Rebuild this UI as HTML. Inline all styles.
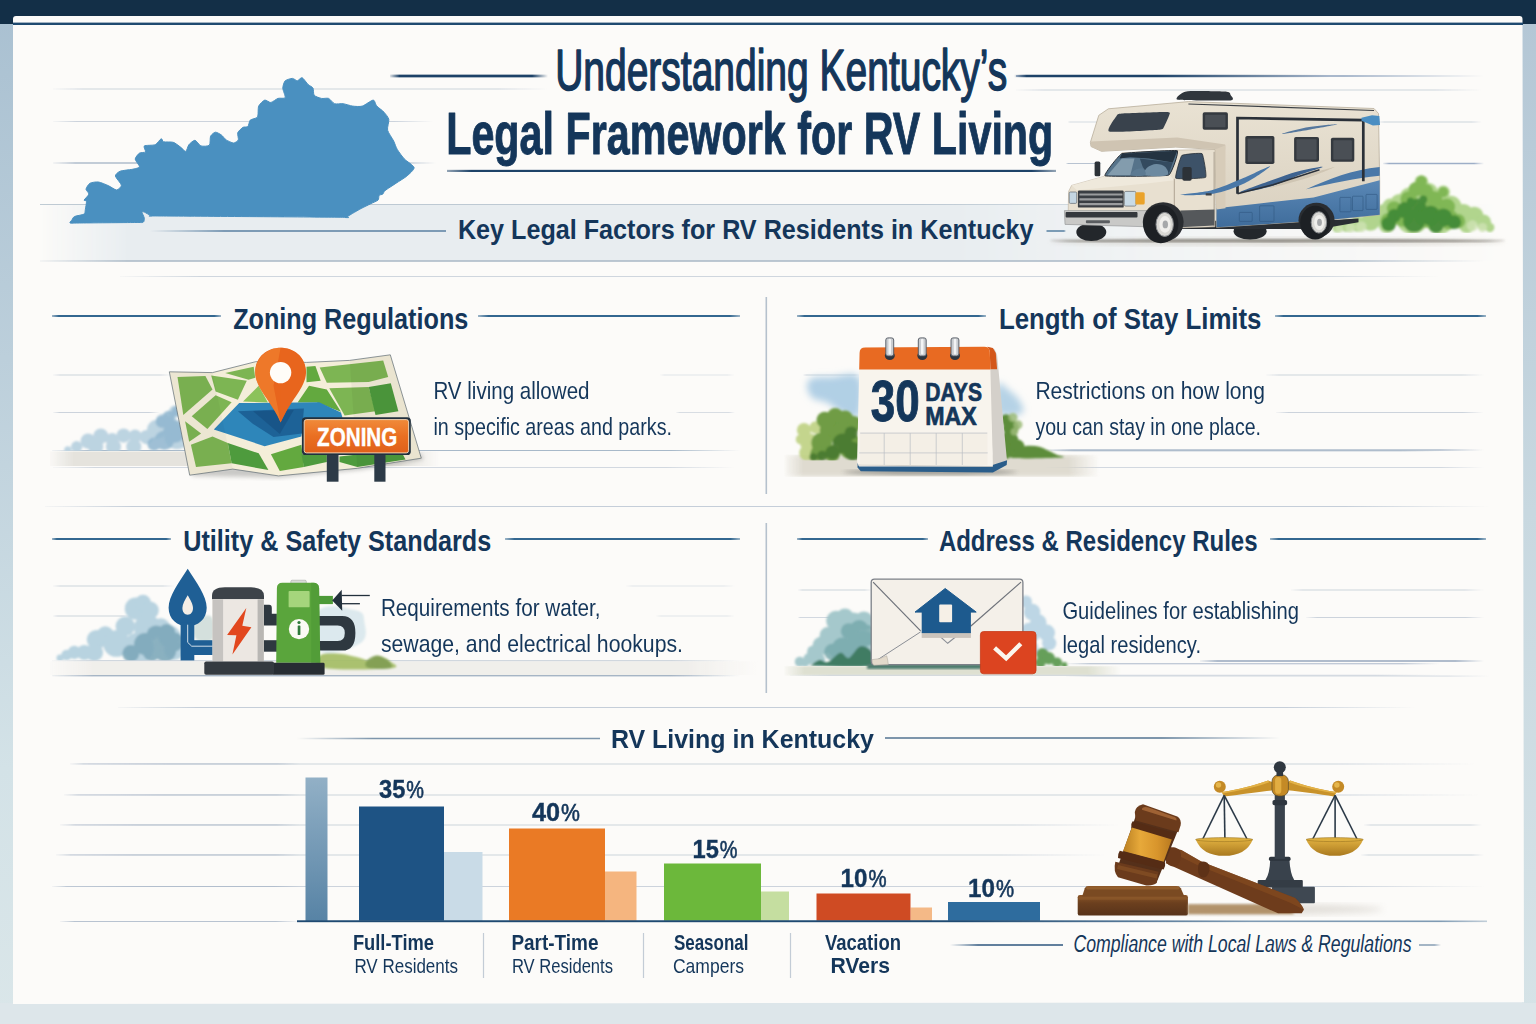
<!DOCTYPE html>
<html lang="en"><head><meta charset="utf-8"><title>Understanding Kentucky's Legal Framework for RV Living</title>
<style>
html,body{margin:0;padding:0;width:1536px;height:1024px;overflow:hidden;background:#dde6ea;}
svg{display:block;position:absolute;left:0;top:0;}
text{font-family:"Liberation Sans",sans-serif;}
</style></head><body>
<svg width="1536" height="1024" viewBox="0 0 1536 1024">
<!-- sec_bg -->
<defs>
<linearGradient id="gleft" x1="0" y1="0" x2="0" y2="1"><stop offset="0" stop-color="#a9c0d1"/><stop offset="0.35" stop-color="#bccfdb"/><stop offset="0.75" stop-color="#d3e2e7"/><stop offset="1" stop-color="#dae6e9"/></linearGradient>
<linearGradient id="gright" x1="0" y1="0" x2="0" y2="1"><stop offset="0" stop-color="#b3c6d5"/><stop offset="0.5" stop-color="#c8d8e0"/><stop offset="1" stop-color="#d6e3e7"/></linearGradient>
<linearGradient id="gfb" x1="0" y1="0" x2="1" y2="0"><stop offset="0" stop-color="#222"/><stop offset="0.06" stop-color="#fff"/><stop offset="0.9" stop-color="#fff"/><stop offset="1" stop-color="#000"/></linearGradient>
<linearGradient id="gfl" x1="0" y1="0" x2="1" y2="0"><stop offset="0" stop-color="#000"/><stop offset="0.25" stop-color="#fff"/><stop offset="1" stop-color="#fff"/></linearGradient>
<linearGradient id="gfr" x1="0" y1="0" x2="1" y2="0"><stop offset="0" stop-color="#fff"/><stop offset="0.7" stop-color="#fff"/><stop offset="1" stop-color="#000"/></linearGradient>
<linearGradient id="gfs" x1="0" y1="0" x2="1" y2="0"><stop offset="0" stop-color="#777"/><stop offset="0.04" stop-color="#fff"/><stop offset="0.96" stop-color="#fff"/><stop offset="1" stop-color="#777"/></linearGradient>
<mask id="mfs" maskContentUnits="objectBoundingBox"><rect x="0" y="0" width="1" height="1" fill="url(#gfs)"/></mask>
<linearGradient id="gf2" x1="0" y1="0" x2="1" y2="0"><stop offset="0" stop-color="#000"/><stop offset="0.04" stop-color="#fff"/><stop offset="0.45" stop-color="#fff"/><stop offset="1" stop-color="#000"/></linearGradient>
<mask id="mf2" maskContentUnits="objectBoundingBox"><rect x="0" y="0" width="1" height="1" fill="url(#gf2)"/></mask>
<linearGradient id="gband" x1="0" y1="0" x2="1" y2="0"><stop offset="0" stop-color="#000"/><stop offset="0.06" stop-color="#fff"/><stop offset="0.62" stop-color="#fff"/><stop offset="0.82" stop-color="#555"/><stop offset="1" stop-color="#000"/></linearGradient>
<mask id="mband" maskContentUnits="objectBoundingBox"><rect x="0" y="0" width="1" height="1" fill="url(#gband)"/></mask>
<mask id="mfb" maskContentUnits="objectBoundingBox"><rect x="0" y="0" width="1" height="1" fill="url(#gfb)"/></mask>
<mask id="mfl" maskContentUnits="objectBoundingBox"><rect x="0" y="0" width="1" height="1" fill="url(#gfl)"/></mask>
<mask id="mfr" maskContentUnits="objectBoundingBox"><rect x="0" y="0" width="1" height="1" fill="url(#gfr)"/></mask>
<filter id="b1" x="-10%" y="-10%" width="120%" height="120%"><feGaussianBlur stdDeviation="1"/></filter>
<filter id="b2" x="-10%" y="-10%" width="120%" height="120%"><feGaussianBlur stdDeviation="2"/></filter>
<filter id="b3" x="-20%" y="-20%" width="140%" height="140%"><feGaussianBlur stdDeviation="3.5"/></filter>
<filter id="b6" x="-20%" y="-30%" width="140%" height="160%"><feGaussianBlur stdDeviation="6"/></filter>
</defs>
<rect x="0" y="0" width="1536" height="1024" fill="#dde6ea"/>
<rect x="0" y="0" width="14" height="1024" fill="url(#gleft)"/>
<rect x="1522" y="0" width="14" height="1024" fill="url(#gright)"/>
<rect x="0" y="1003" width="1536" height="21" fill="#dde6ea"/>
<rect x="0" y="0" width="1536" height="24" fill="#132f47"/>
<path d="M13 1004 L13 19 Q13 16 16 16 L1519.5 16 Q1522.5 16 1522.5 19 L1524 1002.2 Z" fill="#fcfbf9"/>
<rect x="13" y="22.6" width="1510" height="2.4" fill="#1f4a70"/>
<rect x="40" y="204" width="1470" height="57" fill="#e8edf0" mask="url(#mband)"/>
<rect x="40" y="203.7" width="1260" height="1.6" fill="#b9c6d0" opacity="0.9" mask="url(#mfr)"/>
<rect x="40" y="260" width="1444" height="2" fill="#aebcc9" opacity="0.8" mask="url(#mfb)"/>
<rect x="120" y="275.8" width="1320" height="1.5" fill="#c5ced8" opacity="0.8" mask="url(#mfb)"/>
<rect x="53" y="88.3" width="495" height="1.4" fill="#c1cad6" opacity="0.8" mask="url(#mfb)"/>
<rect x="53" y="120.8" width="380" height="1.4" fill="#c1cad6" opacity="0.8" mask="url(#mfb)"/>
<rect x="53" y="162.1" width="383" height="1.8" fill="#a8b6c8" opacity="0.85" mask="url(#mfb)"/>
<rect x="1016" y="89.3" width="466" height="1.4" fill="#c1cad6" opacity="0.8" mask="url(#mfb)"/>
<rect x="1068" y="121.3" width="34" height="1.4" fill="#c1cad6" opacity="0.7" mask="url(#mfb)"/>
<rect x="1378" y="121.3" width="104" height="1.4" fill="#c1cad6" opacity="0.8" mask="url(#mfb)"/>
<rect x="1066" y="162.7" width="36" height="1.6" fill="#a8b6c8" opacity="0.8" mask="url(#mfb)"/>
<rect x="1383" y="162.5" width="101" height="2" fill="#93a6c2" opacity="0.9" mask="url(#mfb)"/>
<rect x="53" y="374.3" width="119" height="1.4" fill="#c1cad6" opacity="0.8" mask="url(#mfb)"/>
<rect x="660" y="374.4" width="75" height="1.2" fill="#c1cad6" opacity="0.6" mask="url(#mfb)"/>
<rect x="53" y="411.8" width="107" height="1.4" fill="#c1cad6" opacity="0.8" mask="url(#mfb)"/>
<rect x="676" y="411.9" width="59" height="1.2" fill="#c1cad6" opacity="0.6" mask="url(#mfb)"/>
<rect x="53" y="466.9" width="682" height="1.3" fill="#c1cad6" opacity="0.7" mask="url(#mfb)"/>
<rect x="45" y="505.7" width="1445" height="1.6" fill="#bcc7d4" opacity="0.85" mask="url(#mfb)"/>
<rect x="803" y="374.3" width="57" height="1.4" fill="#c1cad6" opacity="0.8" mask="url(#mfb)"/>
<rect x="1266" y="374.3" width="218" height="1.4" fill="#c1cad6" opacity="0.8" mask="url(#mfb)"/>
<rect x="1276" y="411.8" width="208" height="1.4" fill="#c1cad6" opacity="0.8" mask="url(#mfb)"/>
<rect x="1046" y="449.1" width="438" height="1.8" fill="#a8b6c8" opacity="0.85" mask="url(#mfb)"/>
<rect x="1046" y="466.9" width="438" height="1.3" fill="#c1cad6" opacity="0.7" mask="url(#mfb)"/>
<rect x="53" y="585.3" width="122" height="1.4" fill="#c1cad6" opacity="0.8" mask="url(#mfb)"/>
<rect x="626" y="585.4" width="109" height="1.2" fill="#c1cad6" opacity="0.6" mask="url(#mfb)"/>
<rect x="53" y="615.3" width="77" height="1.4" fill="#c1cad6" opacity="0.8" mask="url(#mfb)"/>
<rect x="656" y="615.4" width="79" height="1.2" fill="#c1cad6" opacity="0.6" mask="url(#mfb)"/>
<rect x="53" y="675.4" width="682" height="1.3" fill="#c1cad6" opacity="0.7" mask="url(#mfb)"/>
<rect x="798" y="589.3" width="74" height="1.4" fill="#c1cad6" opacity="0.8" mask="url(#mfb)"/>
<rect x="1291" y="589.3" width="193" height="1.4" fill="#c1cad6" opacity="0.8" mask="url(#mfb)"/>
<rect x="798" y="616.9" width="34" height="1.3" fill="#c1cad6" opacity="0.7" mask="url(#mfb)"/>
<rect x="1306" y="616.8" width="178" height="1.4" fill="#c1cad6" opacity="0.8" mask="url(#mfb)"/>
<rect x="1200" y="660" width="284" height="2" fill="#a8b6c8" opacity="0.9" mask="url(#mfb)"/>
<rect x="1066" y="675.4" width="424" height="1.3" fill="#c1cad6" opacity="0.75" mask="url(#mfb)"/>
<rect x="118" y="706.7" width="1298" height="1.6" fill="#bcc7d4" opacity="0.85" mask="url(#mfb)"/>
<rect x="88" y="763.3" width="1388" height="1.4" fill="#c1cad6" opacity="0.8" mask="url(#mfb)"/>
<rect x="80" y="794.3" width="1400" height="1.4" fill="#c1cad6" opacity="0.8" mask="url(#mfb)"/>
<rect x="75" y="824.3" width="1045" height="1.4" fill="#c1cad6" opacity="0.8" mask="url(#mfb)"/>
<rect x="1364" y="824.3" width="118" height="1.4" fill="#c1cad6" opacity="0.8" mask="url(#mfb)"/>
<rect x="70" y="854.3" width="1036" height="1.4" fill="#c1cad6" opacity="0.8" mask="url(#mfb)"/>
<rect x="1361" y="854.3" width="123" height="1.4" fill="#c1cad6" opacity="0.8" mask="url(#mfb)"/>
<rect x="65" y="885.8" width="1421" height="1.4" fill="#c1cad6" opacity="0.8" mask="url(#mfb)"/>
<rect x="60" y="920.7" width="240" height="1.6" fill="#a8b6c8" opacity="0.8" mask="url(#mfb)"/>
<rect x="70" y="763.2" width="230" height="1.5" fill="#a8b6c8" opacity="0.7" mask="url(#mfb)"/>
<rect x="64" y="794.2" width="236" height="1.5" fill="#a8b6c8" opacity="0.7" mask="url(#mfb)"/>
<rect x="60" y="824.2" width="240" height="1.5" fill="#a8b6c8" opacity="0.7" mask="url(#mfb)"/>
<rect x="56" y="854.2" width="244" height="1.5" fill="#a8b6c8" opacity="0.7" mask="url(#mfb)"/>
<rect x="52" y="885.8" width="248" height="1.5" fill="#a8b6c8" opacity="0.7" mask="url(#mfb)"/>
<!-- sec_ky -->
<path d="M70.1 223 C69.2 222.6 71.5 220.6 72 219.8 C72.5 219 73.1 217.2 74.5 216.5 C75.9 215.8 82.8 214.9 84.1 214.1 C85.4 213.3 85 211.2 85.3 209.7 C85.6 208.2 86.6 202.4 86.5 201.3 C86.4 200.2 83.8 200.9 84.1 200.1 C84.4 199.3 88.7 195.4 88.9 194.1 C89.1 192.8 85.9 190.5 86 189.2 C86.1 187.9 88.6 184 90.1 183.2 C91.6 182.4 96.4 181.7 98.5 182 C100.6 182.3 106.1 184.7 108.2 185.6 C110.3 186.5 115.1 190 116.6 190 C118.1 190 121.5 186.8 121.4 185.2 C121.3 183.6 115.5 177.6 115.4 176 C115.3 174.4 118.2 172 120.2 171.2 C122.2 170.4 130 169.8 132.3 169.3 C134.6 168.8 139.2 168 139.5 166.8 C139.8 165.6 135.2 160.7 135.2 159.1 C135.2 157.5 138.3 153.9 139.5 153.1 C140.7 152.3 144.9 152.7 145.5 151.9 C146.1 151.1 143.2 146.7 144.3 145.9 C145.4 145.1 153.2 145.5 155.2 144.7 C157.2 143.9 160.2 139 161.2 138.7 C162.2 138.4 162.2 141.4 163.6 141.8 C165 142.2 171.2 141.7 173.2 142.3 C175.2 142.9 179 146 180.5 147.1 C182 148.2 184.8 151.7 185.8 151.4 C186.8 151.1 187.8 146 188.9 144.7 C190 143.4 193.5 140.2 194.9 140.3 C196.3 140.4 199.2 145.3 200.9 145.9 C202.6 146.5 208.3 146.3 209.4 145.2 C210.5 144.1 209.9 137.7 210.6 136.2 C211.3 134.7 214.1 132.3 215.4 132.2 C216.7 132.1 220.1 134.1 221.4 135 C222.7 135.9 224.8 139 226.2 139.9 C227.6 140.8 232.1 143 233.5 143 C234.9 143 237.8 141.1 238.3 139.9 C238.8 138.7 237.2 134.1 237.8 132.6 C238.4 131.1 241.9 128 243.1 127.3 C244.3 126.6 247.1 127.4 247.9 126.6 C248.7 125.8 249.2 121.2 250.3 120.1 C251.4 119 256.5 118.6 257.5 117 C258.5 115.4 257.8 108.1 258.7 106.1 C259.6 104.1 263.4 100.5 264.8 100.1 C266.2 99.7 269.3 102.7 270.8 102.5 C272.3 102.3 276.3 99 278 98.4 C279.7 97.8 284.6 98.9 285.2 97.7 C285.8 96.5 282.8 90.1 282.8 88.1 C282.8 86.1 284.1 81.9 285.2 80.8 C286.3 79.7 291.1 78.4 292.5 78.4 C293.9 78.4 296.2 80.9 297.3 80.8 C298.4 80.7 300.8 77.3 302.1 77.7 C303.4 78.1 306.8 83.3 308.1 84.5 C309.4 85.7 312.3 86.8 313 88.1 C313.7 89.4 313.2 94.1 314.2 95.3 C315.2 96.5 319.7 98 321.4 98.4 C323.1 98.8 327.1 97.8 328.6 98.4 C330.1 99 332.9 103.1 334.6 103.7 C336.3 104.3 341 103.4 343.1 103.7 C345.2 104 350.5 105.8 352.7 106.1 C354.9 106.4 359.9 106.8 362.3 106.1 C364.7 105.4 371.5 100.1 373.2 100.1 C374.9 100.1 375.5 104.7 376.8 106.1 C378.1 107.5 382.6 110.6 384 112.2 C385.4 113.8 388.4 117.3 388.8 119.4 C389.2 121.5 387 127.7 387.6 130.2 C388.2 132.7 392.6 138.8 393.7 141.1 C394.8 143.4 396 147.4 397.3 149.5 C398.6 151.6 402.5 157 404.5 159.1 C406.5 161.2 413.8 165.6 414.1 167.6 C414.4 169.6 409 174.2 406.9 176 C404.8 177.8 398.6 181.5 396.1 183.2 C393.6 184.9 386.8 189.2 385.2 190.5 C383.6 191.8 383.5 193.5 382.8 194.1 C382.1 194.7 379.8 194.6 379.2 195.3 C378.6 196 379 199.1 378 200.1 C377 201.1 372.8 202.7 370.8 203.7 C368.8 204.7 363.2 207.4 361.1 208.5 C359 209.6 354.5 212.3 352.7 213.3 C350.9 214.3 347.3 216.9 345.5 217.4 C343.7 217.9 358.5 217.4 337 217.2 C315.5 217 182.8 216.2 161.2 216 C139.6 215.8 153.5 216.2 151.5 215.7 C149.5 215.2 145.4 212.5 144.3 212.1 C143.2 211.7 141.9 211.4 141.9 212.1 C141.9 212.8 144.2 217 144.3 218.2 C144.4 219.4 144.2 221.8 143.1 222.3 C142 222.8 142.1 222.4 134.7 222.5 C127.3 222.6 86.8 222.9 79.3 223 C71.8 223.1 71 223.4 70.1 223Z" fill="#4a90c0" stroke="#4a90c0" stroke-width="1" stroke-linejoin="round"/>
<!-- sec_rv -->
<defs>
<linearGradient id="rvbody" x1="0" y1="0" x2="0" y2="1"><stop offset="0" stop-color="#e9e2d3"/><stop offset="1" stop-color="#d9d0bf"/></linearGradient>
<linearGradient id="rvblue" x1="0" y1="0" x2="0" y2="1"><stop offset="0" stop-color="#5a88b6"/><stop offset="1" stop-color="#3f6c9b"/></linearGradient>
<radialGradient id="bushg" cx="0.5" cy="0.6" r="0.6"><stop offset="0" stop-color="#4f8f35"/><stop offset="0.7" stop-color="#79b34d"/><stop offset="1" stop-color="#a8d07c"/></radialGradient>
</defs>
<ellipse cx="1277.6" cy="240.8" rx="227.6" ry="1.6" fill="#5c5852" opacity="0.8" filter="url(#b1)"/>
<ellipse cx="1277.6" cy="241.7" rx="227.6" ry="4.2" fill="#b8b2a6" opacity="0.35" filter="url(#b2)"/>
<clipPath id="bushclip"><rect x="1300" y="100" width="230" height="133.1"/></clipPath><g clip-path="url(#bushclip)">
<g filter="url(#b1)">
<g fill="#a9d182" opacity="0.9"><circle cx="1337.5" cy="227.6" r="5.1"/><circle cx="1346.7" cy="225.3" r="6.6"/><circle cx="1357.6" cy="224" r="7.7"/><circle cx="1370.4" cy="221.2" r="9.5"/><circle cx="1383.1" cy="215.8" r="11.3"/><circle cx="1390.4" cy="206.7" r="8.2"/><circle cx="1399.5" cy="203" r="9.1"/><circle cx="1409.5" cy="197.5" r="10"/><circle cx="1421.4" cy="182.1" r="6.9"/><circle cx="1417.8" cy="192.1" r="10"/><circle cx="1428.7" cy="192.1" r="9.1"/><circle cx="1443.3" cy="192.1" r="6.6"/><circle cx="1439.6" cy="201.2" r="10"/><circle cx="1450.6" cy="206.7" r="10.9"/><circle cx="1463.3" cy="214" r="10"/><circle cx="1474.3" cy="215.8" r="9.1"/><circle cx="1483.4" cy="222.2" r="7.7"/><circle cx="1489.8" cy="227.6" r="4.6"/><circle cx="1412.3" cy="217.6" r="16.4"/><circle cx="1439.6" cy="219.4" r="14.6"/><circle cx="1386.8" cy="224.9" r="8.2"/><circle cx="1467" cy="224.9" r="8.2"/></g>
<g fill="#7db552" opacity="0.95"><circle cx="1421.4" cy="181.1" r="5.5"/><circle cx="1415.9" cy="189.3" r="7.3"/><circle cx="1426" cy="191.2" r="7.3"/><circle cx="1408.6" cy="199.4" r="8.2"/><circle cx="1434.2" cy="199.4" r="8.2"/><circle cx="1443.3" cy="192.1" r="5.1"/><circle cx="1394.1" cy="208.5" r="7.3"/><circle cx="1446.9" cy="206.7" r="8.2"/><circle cx="1403.2" cy="215.8" r="10.9"/><circle cx="1426.9" cy="214" r="13.7"/><circle cx="1448.7" cy="219.4" r="10"/><circle cx="1388.6" cy="221.2" r="8.2"/><circle cx="1457.9" cy="221.2" r="7.3"/></g>
<g fill="#438a36" opacity="0.95"><circle cx="1388.6" cy="224" r="7.3"/><circle cx="1394.1" cy="215.8" r="6.9"/><circle cx="1405" cy="210.3" r="8.2"/><circle cx="1417.8" cy="206.7" r="8.2"/><circle cx="1414.1" cy="221.2" r="10.9"/><circle cx="1430.5" cy="215.8" r="10"/><circle cx="1443.3" cy="217.6" r="9.1"/><circle cx="1454.2" cy="222.2" r="6.9"/><circle cx="1436" cy="225.8" r="7.3"/><circle cx="1423.2" cy="199.4" r="4"/><circle cx="1410.5" cy="201.2" r="3.6"/></g>
<g fill="#cfe3b4" opacity="0.8"><circle cx="1339.4" cy="228.5" r="4"/><circle cx="1350.3" cy="227.6" r="5.1"/><circle cx="1361.2" cy="226.7" r="5.5"/><circle cx="1472.4" cy="225.8" r="5.5"/><circle cx="1482.5" cy="227.6" r="4.6"/></g>
</g>
</g>
<ellipse cx="1091.3" cy="232.1" rx="15" ry="9" fill="#23272b" />
<ellipse cx="1250.1" cy="231.2" rx="16.5" ry="8.4" fill="#23272b" />
<path d="M1148.8 220.8 L1319.5 220.8 L1358.5 218.4 L1358.5 222.3 L1319.5 229.1 L1148.8 229.1Z" fill="#2a2e33" />
<path d="M1090.4 142.3 L1098.8 115.3 L1108.4 108.8 L1188.4 101.6 L1374 108.5 L1378.5 113.5 L1379.7 181.8 L1379.7 214.8 L1333 219.6 L1216.5 227.3 L1215 149.5 L1175.8 147.1 L1101.5 151.3 L1091 146.5Z" fill="url(#rvbody)" stroke="#b9ae9c" stroke-width="0.8" stroke-linejoin="round"/>
<path d="M1091 141.4 L1177.3 137.5 L1225.2 144.4 L1225.2 149.5 L1175.8 147.1 L1101.5 151.3 L1091 146.5Z" fill="#cfc4b2" />
<path d="M1188.4 104 L1374 110.5" fill="none" stroke="#3a3f45" stroke-width="1.2" />
<path d="M1178.2 99.8 C1173.3 99.1 1180.5 94.1 1181.8 93.2 C1183.1 92.3 1186.3 91.2 1190.8 91.1 C1195.3 90.9 1222.7 91.3 1226.7 91.7 C1230.7 92.1 1230.2 94.1 1230.6 95 C1231 95.9 1235.8 99.9 1230.6 100.4 C1225.4 100.9 1183.1 100.5 1178.2 99.8Z" fill="#30363c" />
<path d="M1216.5 208.2 L1259.6 203.4 L1313.6 197.4 L1379.7 180.3 L1379.7 214.8 L1333 219.6 L1216.5 227.3Z" fill="url(#rvblue)" />
<rect x="1239.3" y="212.4" width="12.9" height="9" rx="0.6" fill="none" stroke="#2f5680" stroke-width="0.7" opacity="0.8"/>
<rect x="1259.6" y="205.8" width="14.4" height="15.6" rx="0.6" fill="none" stroke="#2f5680" stroke-width="0.7" opacity="0.8"/>
<rect x="1339.9" y="197.4" width="11.1" height="14.4" rx="0.6" fill="none" stroke="#2f5680" stroke-width="0.7" opacity="0.8"/>
<rect x="1352.5" y="196.2" width="10.5" height="14.4" rx="0.6" fill="none" stroke="#2f5680" stroke-width="0.7" opacity="0.8"/>
<rect x="1366" y="194.4" width="11.1" height="15" rx="0.6" fill="none" stroke="#2f5680" stroke-width="0.7" opacity="0.8"/>
<path d="M1239.3 192.6 C1239.3 191.6 1261.7 183.9 1271.6 180.3 C1281.5 176.8 1290.1 173.5 1298.6 171.3 C1307.1 169.1 1322.5 166.2 1322.5 166.9 C1322.5 167.6 1307.1 172 1298.6 175.2 C1290.1 178.4 1281.5 183.4 1271.6 186.3 C1261.7 189.2 1239.3 193.6 1239.3 192.6Z" fill="#3e6390" />
<path d="M1270.1 187.8 C1269.1 187.6 1287.9 180.8 1298.6 177.3 C1309.3 173.8 1333.5 166.7 1334.5 166.9 C1335.5 167.2 1315.3 175.3 1304.6 178.8 C1293.9 182.3 1271.1 188.1 1270.1 187.8Z" fill="#cfc5b3" />
<path d="M 1306.1 189.3 C 1328.5 178.8 1352.5 169.8 1379.7 166.9 L 1379.7 175.8 C 1355.5 178.2 1331.5 183.3 1306.1 189.3 Z" fill="#4a78a8" />
<path d="M1282.1 133.9 C1281.6 133.6 1298.4 128.9 1307.6 127.3 C1316.8 125.7 1337 123.9 1337.5 124.3 C1338 124.7 1319.8 127.8 1310.6 129.4 C1301.4 131 1282.6 134.2 1282.1 133.9Z" fill="#55779d" />
<path d="M1237.5 193.8 L1237.5 118 L1363.3 120.1 L1363.3 181.2" fill="none" stroke="#2a3038" stroke-width="2.7" stroke-linejoin="miter"/>
<path d="M1237.5 193.8 L1273.1 184.8 L1319.5 169.8" fill="none" stroke="#2a3038" stroke-width="1.5" />
<path d="M1361.5 117.7 L1372 115.3 L1379.4 115.9 L1380 124.9 L1372.9 125.5 L1361.5 120.7Z" fill="#4a8ec2" />
<rect x="1202.7" y="112.3" width="25.2" height="17.4" rx="1.8" fill="#34393f" />
<rect x="1205.1" y="114.7" width="20.4" height="12.6" rx="0.9" fill="#4a4f55" />
<rect x="1245.3" y="136" width="29.1" height="28.1" rx="1.8" fill="#34393f" />
<rect x="1247.7" y="138.4" width="24.3" height="23.4" rx="0.9" fill="#4a4f55" />
<rect x="1294.1" y="136.9" width="24.9" height="24.9" rx="1.8" fill="#34393f" />
<rect x="1296.5" y="139.3" width="20.1" height="20.1" rx="0.9" fill="#4a4f55" />
<rect x="1330.9" y="137.8" width="23.4" height="24" rx="1.8" fill="#34393f" />
<rect x="1333.3" y="140.2" width="18.6" height="19.2" rx="0.9" fill="#4a4f55" />
<path d="M1109.3 131.5 C1105.7 130.3 1115.5 117.4 1116.5 115.9 C1117.5 114.4 1117.7 113.8 1121.9 113.5 C1126.1 113.2 1163.5 111.8 1167.4 112 C1171.3 112.2 1169.5 114 1169.2 115.3 C1168.9 116.6 1164.6 126.1 1163.8 127.3 C1163 128.5 1163.8 129.3 1159.3 129.7 C1154.8 130 1112.9 132.7 1109.3 131.5Z" fill="#39424c" />
<path d="M1215 149.5 L1225.5 145.3 L1225.5 208.2 L1216.5 209.4Z" fill="#d7ccb9" />
<path d="M1068.6 191.4 L1071.6 185.4 L1103.9 176.4 L1121.9 152.8 L1177.3 150.1 L1215 149.5 L1215 226.8 L1178.8 227.9 L1068 220.8Z" fill="#e8e0d0" stroke="#bdb2a0" stroke-width="0.6"/>
<path d="M1071.6 185.4 L1103.9 176.4 L1169.8 175.2 L1174.3 180.3 L1148.8 183.3 L1077 190.2Z" fill="#efe9dc" />
<path d="M1105.1 175.8 C1103.2 174.9 1119 154.7 1121.9 153.7 C1124.8 152.7 1175.4 149.8 1177.3 150.7 C1179.2 151.6 1171.5 174.2 1168.6 175.2 C1165.7 176.2 1107 176.7 1105.1 175.8Z" fill="#56738a" stroke="#2a3139" stroke-width="1"/>
<path d="M1121.9 153.7 L1177.3 150.7 L1172.8 162.4 L1148.8 158.5 L1130.3 157.3 L1119.5 158.5Z" fill="#1f2c38" opacity="0.9"/>
<path d="M1139.8 158.5 L1172.8 162.4 L1168.6 174.6 L1148.8 175.2 L1142.8 166.9Z" fill="#2d4357" opacity="0.85"/>
<path d="M1145.2 175.2 C1142 173.9 1145.5 169.4 1147.3 167.5 C1149.1 165.6 1153.3 164 1156.3 163.9 C1159.3 163.8 1163.5 165 1165.3 166.9 C1167 168.8 1170.1 173.8 1166.8 175.2 C1163.5 176.6 1148.5 176.5 1145.2 175.2Z" fill="#6d8aa0" />
<path d="M1130.9 175.2 C1129.3 174.3 1133.4 170.9 1135.4 169.8 C1137.4 168.7 1141.2 167.7 1142.8 168.6 C1144.4 169.5 1147.2 174.1 1145.2 175.2 C1143.2 176.3 1132.5 176.1 1130.9 175.2Z" fill="#5c7a92" />
<path d="M1107.5 175.2 L1121.9 158.5 L1134.5 158.5 L1130.3 175.2Z" fill="#93a9b8" opacity="0.75"/>
<path d="M1175.8 178.2 C1174.6 177.1 1180.5 156.7 1181.8 155.5 C1183.1 154.3 1200.9 152.6 1202.1 153.7 C1203.3 154.8 1207 176.1 1205.7 177.3 C1204.4 178.5 1177 179.3 1175.8 178.2Z" fill="#3d5268" stroke="#2a3139" stroke-width="0.8"/>
<path d="M1174.3 178.8 L1174.3 211.8 L1179.4 227.3" fill="none" stroke="#a79c8a" stroke-width="0.9" />
<path d="M1214.1 151.9 L1214.1 226.2" fill="none" stroke="#a79c8a" stroke-width="0.9" />
<path d="M1180.3 194.7 C1180 194.1 1201.5 192.8 1211.7 190.2 C1221.9 187.5 1232 182.8 1241.7 178.8 C1251.4 174.8 1269.6 165.6 1270.1 166.3 C1270.6 167.1 1254.2 178.7 1244.7 183.3 C1235.2 187.9 1223.9 191.9 1213.2 193.8 C1202.5 195.7 1180.5 195.3 1180.3 194.7Z" fill="#4a78a8" />
<rect x="1205.7" y="193.2" width="6" height="2.4" rx="0.6" fill="#3a3f45" />
<rect x="1094.6" y="161.5" width="5.7" height="14.7" rx="1.5" fill="#2c3238" />
<rect x="1182.4" y="166.9" width="9.3" height="13.8" rx="1.8" fill="#2c3238" />
<path d="M1180.3 210.6 L1214.4 209.4 L1214.4 225.6 L1180.3 227.3Z" fill="#55585b" />
<rect x="1077.9" y="190.5" width="45.8" height="17.1" rx="1.2" fill="#3a3e43" />
<rect x="1079.4" y="193.5" width="43.1" height="2.1" rx="0.3" fill="#9a9c9e" />
<rect x="1079.4" y="198.3" width="43.1" height="2.1" rx="0.3" fill="#9a9c9e" />
<rect x="1079.4" y="203.1" width="43.1" height="2.1" rx="0.3" fill="#9a9c9e" />
<rect x="1069.2" y="192" width="7.5" height="11.4" rx="1.2" fill="#c4d6e2" stroke="#70777e" stroke-width="0.8"/>
<rect x="1124.3" y="191.4" width="11.7" height="14.7" rx="1.5" fill="#c9dbe6" stroke="#70777e" stroke-width="0.8"/>
<rect x="1135.4" y="192.3" width="9.3" height="12.3" rx="1.5" fill="#eaa32b" />
<path d="M1064.4 210.6 L1150.9 210.6 L1148.2 226.8 L1065 224.4Z" fill="#c9c9c7" stroke="#8d8f91" stroke-width="0.6"/>
<rect x="1065.6" y="212.1" width="71.9" height="5.4" rx="0.9" fill="#34383d" />
<rect x="1085.9" y="220.2" width="24" height="3" rx="0.9" fill="#5a5d60" />
<ellipse cx="1163.2" cy="222" rx="20.4" ry="19.8" fill="#2a2d31" />
<ellipse cx="1316.5" cy="220.2" rx="18" ry="17.4" fill="#2a2d31" />
<ellipse cx="1160.8" cy="224.1" rx="17.6" ry="19.2" fill="#1d2024" />
<ellipse cx="1164.7" cy="224.4" rx="8.7" ry="12" fill="#d9d8d4" stroke="#85888b" stroke-width="1"/>
<ellipse cx="1165" cy="224.4" rx="5.7" ry="8.4" fill="#f0efec" />
<ellipse cx="1165.3" cy="224.4" rx="2.7" ry="3.9" fill="#a6a8aa" />
<ellipse cx="1315.2" cy="222.6" rx="15" ry="16.9" fill="#1d2024" />
<ellipse cx="1318.9" cy="222.4" rx="7.7" ry="10.7" fill="#d9d8d4" stroke="#85888b" stroke-width="1"/>
<ellipse cx="1319.2" cy="222.4" rx="5.1" ry="7.5" fill="#f0efec" />
<ellipse cx="1319.5" cy="222.4" rx="2.4" ry="3.6" fill="#a6a8aa" />
<!-- sec_map -->
<defs>
<linearGradient id="zsign" x1="0" y1="0" x2="0" y2="1"><stop offset="0" stop-color="#f08a3a"/><stop offset="0.5" stop-color="#ea6f22"/><stop offset="1" stop-color="#e0601a"/></linearGradient>
<clipPath id="mapclip"><path d="M169.3 371.8 L212.5 372.6 L255.7 361.7 L306.5 362.4 L349.6 360.4 L390.3 354.8 L421.3 458.2 L357.3 468.3 L278.5 475.9 L232.8 469.1 L189.7 475.2Z"/></clipPath>
</defs>
<rect x="50" y="451.3" width="390.1" height="14.7" rx="0" fill="#e3e1db" mask="url(#mfb)" opacity="0.9"/>
<rect x="52" y="449.7" width="688" height="1.6" fill="#9fb2c4" opacity="0.9" mask="url(#mfb)"/>
<clipPath id="cl_map"><rect x="55.1" y="385.8" width="137.1" height="65"/></clipPath><g clip-path="url(#cl_map)"><g filter="url(#b1)"><g fill="#b6d0df" opacity="0.9"><circle cx="67.8" cy="449.8" r="3.6"/><circle cx="76.7" cy="446.7" r="5.6"/><circle cx="88.1" cy="441.1" r="7.6"/><circle cx="100.8" cy="436.1" r="7.6"/><circle cx="112.2" cy="439.6" r="6.6"/><circle cx="123.6" cy="435.6" r="7.1"/><circle cx="135.1" cy="436.1" r="6.6"/><circle cx="146.5" cy="437.1" r="7.1"/><circle cx="156.7" cy="429.5" r="9.7"/><circle cx="163" cy="420.8" r="7.1"/><circle cx="169.3" cy="424.4" r="8.6"/><circle cx="174.9" cy="411.7" r="6.1"/><circle cx="177" cy="436.6" r="12.7"/><circle cx="113.5" cy="446.7" r="7.6"/><circle cx="133.8" cy="446.7" r="7.6"/><circle cx="95.7" cy="446.7" r="7.6"/></g><g fill="#8fb6cf" opacity="0.85"><circle cx="161.7" cy="421.8" r="6.1"/><circle cx="168.8" cy="416.8" r="6.1"/><circle cx="174.4" cy="431.5" r="11.2"/><circle cx="177" cy="411.2" r="5.1"/><circle cx="164.3" cy="440.4" r="9.7"/><circle cx="154.1" cy="444.2" r="6.6"/></g></g></g>
<path d="M192.2 475.9 L278.5 477.7 L359.8 470.1 L423.3 459.4 L421.3 454.3 L192.2 469.6Z" fill="#6b6b66" opacity="0.35" filter="url(#b2)"/>
<path d="M169.3 371.8 L212.5 372.6 L255.7 361.7 L306.5 362.4 L349.6 360.4 L390.3 354.8 L421.3 458.2 L357.3 468.3 L278.5 475.9 L232.8 469.1 L189.7 475.2Z" fill="#f4eed9" stroke="#5d6a72" stroke-width="0.7" stroke-linejoin="round"/>
<g clip-path="url(#mapclip)">
<path d="M177.5 376.9 L205.4 376.1 L212.5 389.6 L183.3 415Z" fill="#7db553" />
<path d="M211.2 375.6 L246.8 380.7 L237.9 399.8 L215.6 391.4Z" fill="#7db553" />
<path d="M225.2 373.1 L253.7 366.7 L255.2 377.7 L248.6 379.7Z" fill="#7db553" />
<path d="M191.7 416.3 L215.6 395.2 L231.6 402.3 L207.4 429Z" fill="#7db553" />
<path d="M185.1 421.3 L201.1 433.5 L189.2 441.7Z" fill="#7db553" />
<path d="M190.9 444.7 L212.5 436.6 L227.8 442.9 L231.6 463.2 L196 467Z" fill="#7db553" />
<path d="M227.8 442.9 L258.7 453.3 L268.4 470.1 L231.6 463.2Z" fill="#4e9b3d" />
<path d="M270.9 454.3 L301.4 444.7 L303.9 467 L279.8 470.9Z" fill="#63a93f" />
<path d="M301.4 454.3 L326.8 454.3 L326.8 462 L303.9 467Z" fill="#4e9b3d" />
<path d="M319.7 367.5 L383.2 360.4 L388.2 376.9 L368.7 382 L326.8 382.7Z" fill="#7db553" />
<path d="M329.3 388.3 L368.7 387.1 L375.5 411.2 L344.6 415.5Z" fill="#7db553" />
<path d="M368.7 387.1 L390.8 383.2 L398.4 411.2 L375.5 415Z" fill="#4e9b3d" />
<path d="M306.5 366.7 L315.4 366 L320.7 380.7 L306.5 382.2Z" fill="#63a93f" />
<path d="M243 401.5 L258.7 385.8 L267.9 402.5Z" fill="#8cc25a" />
<path d="M297.6 402.5 L309 385.8 L326.8 389.6 L341 411.7 L316.6 402.5Z" fill="#63a93f" />
<path d="M339.5 456.4 L400.4 449.8 L405.5 459.4 L357.3 467 L339.5 462Z" fill="#4e9b3d" />
<path d="M213.8 429.5 L239.2 403.1 L319.2 402.3 L341 412.5 L342.5 417.8 L303.9 418.8 L301.4 436.6 L264.6 446.2Z" fill="#2e86ba" />
<path d="M237.9 411.2 L303.9 408.6 L301.9 433.5 L273.5 437.1 L253.1 423.9Z" fill="#1d6297" />
<path d="M253.1 411.2 L293.8 409.9 L279.8 434Z" fill="#185285" opacity="0.8"/>
<path d="M357.3 468.3 L349.6 360.4 L390.3 354.8 L421.3 458.2Z" fill="#000" opacity="0.04"/>
<path d="M212.5 372.6 L232.8 469.1 L189.7 475.2 L169.3 371.8Z" fill="#000" opacity="0.03"/>
</g>
<path d="M280.6 422.6 C273.5 403.6 255.2 388.3 255.2 372.6 C255.2 339.6 306 339.6 306 372.6 Z" fill="#e8651d"/>
<path d="M280.6 422.6 C287.7 403.6 306 388.3 306 372.6 C306 359.1 295 348.2 280.6 347.7 L280.6 422.6 Z" fill="#e8651d"/>
<path d="M280.6 422.6 C273.5 403.6 255.2 388.3 255.2 372.6 C255.2 359.1 265.8 348.2 280.6 347.7 L273.5 385.8 Z" fill="#f07f2e" opacity="0.75"/>
<circle cx="280.6" cy="372.6" r="10.7" fill="#fffdf8" />
<rect x="326.8" y="454.3" width="11.7" height="27.4" rx="0" fill="#2c3a47" />
<rect x="374.3" y="454.3" width="11.2" height="27.4" rx="0" fill="#2c3a47" />
<rect x="301.9" y="417.3" width="108.9" height="37.8" rx="3.6" fill="#22303e" />
<rect x="304.2" y="419.6" width="104.4" height="33.3" rx="2.3" fill="url(#zsign)" stroke="#f6dcc0" stroke-width="0.9"/>
<text x="317.1" y="445.7" font-size="26" font-weight="700" font-style="normal" fill="#ffffff" textLength="80.2" lengthAdjust="spacingAndGlyphs" stroke="#fff" stroke-width="0.4">ZONING</text>
<!-- sec_cal -->
<rect x="784.2" y="454.6" width="315.8" height="22.3" rx="0" fill="#dad6ca" mask="url(#mfb)" opacity="0.85" filter="url(#b2)"/>
<rect x="1050.8" y="450" width="389.2" height="1.6" fill="#aebccb" opacity="0.9" mask="url(#mfb)"/>
<g filter="url(#b3)">
<path d="M809.2 380 C813.4 376 822.1 377.3 832.1 376.9 C842.1 376.5 853.8 370.2 859.2 377.9 C864.6 385.6 862.5 408.3 859.2 415.4 C855.9 422.5 848.8 415.8 842.5 413.3 C836.2 410.8 834.2 406.2 827.9 402.9 C821.6 399.6 814.9 401.3 811.2 396.7 C807.5 392.1 805 384 809.2 380Z" fill="#a9cbe3" opacity="0.9"/>
<path d="M997.7 384.2 C1000 379.6 1004.8 387.1 1009.2 390.4 C1013.6 393.7 1017.1 396.2 1019.6 400.8 C1022.1 405.4 1026.1 410.8 1021.7 413.3 C1017.3 415.8 1002.5 419.1 997.7 413.3 C992.9 407.5 995.4 388.8 997.7 384.2Z" fill="#a9cbe3" opacity="0.85"/>
</g>
<clipPath id="cl_cal"><rect x="788.3" y="392.5" width="283.3" height="67.9"/></clipPath><g clip-path="url(#cl_cal)"><g filter="url(#b1)"><g fill="#bfd282" opacity="0.9"><circle cx="804" cy="430" r="7.1"/><circle cx="809.2" cy="442.5" r="9.2"/><circle cx="806.7" cy="452.9" r="7.5"/><circle cx="815.8" cy="427.5" r="6.2"/><circle cx="800.8" cy="439.4" r="5"/><circle cx="813.3" cy="455" r="6.2"/></g><g fill="#6f9c44" ><circle cx="824.8" cy="420" r="8.3"/><circle cx="835.2" cy="415.8" r="7.9"/><circle cx="845" cy="418.8" r="8.3"/><circle cx="853.3" cy="424.2" r="8.3"/><circle cx="830" cy="430.4" r="10.4"/><circle cx="842.5" cy="434.6" r="12.5"/><circle cx="850.8" cy="446.7" r="12.5"/><circle cx="821.7" cy="442.9" r="10.4"/><circle cx="817.9" cy="453.3" r="7.5"/><circle cx="832.1" cy="453.3" r="8.3"/></g><g fill="#4a7a30" opacity="0.92"><circle cx="842.5" cy="443.5" r="10"/><circle cx="852.9" cy="451.2" r="9.4"/><circle cx="832.5" cy="452.5" r="7.1"/><circle cx="822.1" cy="455.8" r="5"/><circle cx="851.2" cy="433.1" r="6.7"/><circle cx="813.3" cy="457.1" r="3.8"/></g><g fill="#5d8d3a" ><circle cx="1006" cy="420" r="5.8"/><circle cx="1010.8" cy="427.9" r="7.9"/><circle cx="1009.2" cy="440.4" r="9.2"/><circle cx="1017.5" cy="446.7" r="7.1"/><circle cx="1005" cy="450.8" r="8.3"/></g><path d="M1013.3 451.9 C1014.7 450.1 1018.9 448.1 1021.7 447.1 C1024.5 446.1 1027 445.9 1030 445.8 C1033 445.7 1036.3 445.9 1039.4 446.7 C1042.5 447.5 1045.8 449.4 1048.8 450.8 C1051.8 452.2 1055 453.9 1057.1 455 C1059.2 456.1 1068.5 457 1061.2 457.5 C1053.9 458 1021.3 459 1013.3 458.1 C1005.3 457.2 1011.9 453.7 1013.3 451.9Z" fill="#5d8d3a" /><g fill="#9dbb78" opacity="0.85"><circle cx="1012.9" cy="417.5" r="4.6"/><circle cx="1017.9" cy="424.8" r="4.6"/><circle cx="1014.4" cy="431.7" r="3.8"/></g></g></g>
<ellipse cx="930" cy="472.1" rx="87.5" ry="2.5" fill="#4b4b48" opacity="0.5" filter="url(#b2)"/>
<path d="M988.3 347.1 L994.6 349.2 L997.1 355 L1007.1 461.7 L992.9 467.9Z" fill="#d4d0ca" />
<path d="M987.3 346.7 L992.9 347.9 L995.8 352.9 L997.1 369.2 L990 369.2Z" fill="#d3571a" />
<path d="M857.5 463.3 L992.5 465 L1007.1 460.2 L1006.7 465 L992.9 472.5 L860.8 471.2 L857.5 467.5Z" fill="#2a5d8a" />
<path d="M 857.1 461.2 L 859.2 369.2 L 859.6 352.9 Q 859.6 347.5 865.4 347.5 L 984.2 346.7 Q 989.4 346.7 989.8 351.9 L 990.4 369.2 L 992.9 466.5 L 859.2 466.5 Q 857.1 463.3 857.1 461.2 Z" fill="#f8f4ed" />
<path d="M 859.2 369.6 L 859.6 352.9 Q 859.6 347.5 865.4 347.5 L 984.2 346.7 Q 989.4 346.7 989.8 351.9 L 990.4 369.6 Z" fill="#e86a22" />
<path d="M857.5 465 L992.5 466.5" fill="none" stroke="#c9c6c0" stroke-width="0.8" />
<rect x="860.2" y="433.8" width="127.1" height="31.2" rx="0" fill="#efe9e0" opacity="0.5"/>
<path d="M860.2 433.1 L987.3 433.1" fill="none" stroke="#b4b9bf" stroke-width="0.7" />
<path d="M859.2 452.9 L987.7 452.9" fill="none" stroke="#bcc0c5" stroke-width="0.7" />
<path d="M884.2 433.1 L884.2 465" fill="none" stroke="#b9bdc3" stroke-width="0.7" />
<path d="M910.2 433.1 L910.2 465" fill="none" stroke="#b9bdc3" stroke-width="0.7" />
<path d="M936.2 433.1 L936.2 465" fill="none" stroke="#b9bdc3" stroke-width="0.7" />
<path d="M962.3 433.1 L962.3 465" fill="none" stroke="#b9bdc3" stroke-width="0.7" />
<ellipse cx="889.8" cy="355.8" rx="5" ry="4.2" fill="#2d3640" />
<rect x="885.8" y="337.9" width="7.9" height="18.1" rx="2.1" fill="#c9ccd0" stroke="#4f5660" stroke-width="0.9"/>
<rect x="888.5" y="338.8" width="2.5" height="15.8" rx="1" fill="#f2f3f4" />
<ellipse cx="922.3" cy="355.8" rx="5" ry="4.2" fill="#2d3640" />
<rect x="918.3" y="337.9" width="7.9" height="18.1" rx="2.1" fill="#c9ccd0" stroke="#4f5660" stroke-width="0.9"/>
<rect x="921" y="338.8" width="2.5" height="15.8" rx="1" fill="#f2f3f4" />
<ellipse cx="955" cy="355.8" rx="5" ry="4.2" fill="#2d3640" />
<rect x="951" y="337.9" width="7.9" height="18.1" rx="2.1" fill="#c9ccd0" stroke="#4f5660" stroke-width="0.9"/>
<rect x="953.8" y="338.8" width="2.5" height="15.8" rx="1" fill="#f2f3f4" />
<text x="870.8" y="420.6" font-size="57.5" font-weight="700" font-style="normal" fill="#14365a" textLength="48.9" lengthAdjust="spacingAndGlyphs" stroke="#14365a" stroke-width="1">30</text>
<text x="925.3" y="400.8" font-size="25.7" font-weight="700" font-style="normal" fill="#14365a" textLength="56.7" lengthAdjust="spacingAndGlyphs" stroke="#14365a" stroke-width="0.7">DAYS</text>
<text x="925.3" y="425.2" font-size="25.7" font-weight="700" font-style="normal" fill="#14365a" textLength="51.5" lengthAdjust="spacingAndGlyphs" stroke="#14365a" stroke-width="0.7">MAX</text>
<!-- sec_util -->
<rect x="52" y="660.1" width="688" height="1.4" fill="#b8c4cf" opacity="0.8" mask="url(#mfb)"/>
<rect x="52" y="674.7" width="688" height="1.8" fill="#9fb0c2" opacity="0.9" mask="url(#mfb)"/>
<rect x="50" y="661.2" width="708.3" height="13.9" rx="0" fill="#eceae6" mask="url(#mfb)" opacity="0.7"/>
<clipPath id="cl_ut1"><rect x="50" y="577.1" width="131" height="83.2"/></clipPath><g clip-path="url(#cl_ut1)"><g filter="url(#b1)"><g fill="#b2d0de" opacity="0.92"><circle cx="60" cy="657.9" r="3.5"/><circle cx="66.6" cy="655" r="5.3"/><circle cx="74.3" cy="652.4" r="6.6"/><circle cx="84.3" cy="652.4" r="7.5"/><circle cx="96.5" cy="639.6" r="9.7"/><circle cx="105.3" cy="635.1" r="8.8"/><circle cx="116.4" cy="643.5" r="13.3"/><circle cx="125.3" cy="626.3" r="9.7"/><circle cx="135.9" cy="608.6" r="11.1"/><circle cx="143" cy="602.8" r="8"/><circle cx="150" cy="610.3" r="8.8"/><circle cx="147.4" cy="628" r="13.3"/><circle cx="160.7" cy="628" r="9.7"/><circle cx="169.5" cy="636.9" r="11.1"/><circle cx="138.5" cy="648" r="15.5"/><circle cx="94.3" cy="652.4" r="8.8"/><circle cx="173.9" cy="650.2" r="10"/></g><g fill="#7ca7b9" opacity="0.88"><circle cx="130.8" cy="653.5" r="8.4"/><circle cx="145.2" cy="644" r="11.1"/><circle cx="156.2" cy="635.1" r="9.7"/><circle cx="166.9" cy="632.5" r="8.4"/><circle cx="174.4" cy="641.8" r="9.3"/><circle cx="165.1" cy="650.6" r="11.1"/><circle cx="151.8" cy="652.4" r="8.8"/></g></g></g>
<g filter="url(#b1)">
<path d="M318.9 610.3 C326.2 602.3 346.3 608.1 355.4 610.3 C364.5 612.5 363.4 614.8 364.3 621.4 C365.2 628 369 637.7 359.9 643.5 C350.8 649.3 327.1 656.8 318.9 650.2 C310.7 643.6 311.6 618.3 318.9 610.3Z" fill="#c6dde6" opacity="0.6"/>
<path d="M320 655.7 C322.6 652.8 330.6 653.3 337.7 653.5 C344.8 653.7 349.2 655.5 355.4 656.8 C361.6 658.1 364.3 660.3 368.7 660.1 C373.1 659.9 373.3 655.5 377.6 655.7 C381.9 655.9 387.5 658.7 390 661.2 C392.5 663.7 403.1 667 390 668.3 C376.9 669.6 338.5 670.4 324.5 667.9 C310.5 665.4 317.4 658.6 320 655.7Z" fill="#a3bd63" opacity="0.9"/>
<path d="M366.5 661.2 C367.8 658.8 371.9 656.4 375.4 655.7 C378.9 655 381.3 656.6 384.2 657.9 C387.1 659.2 388.8 660.2 390 662.3 C391.2 664.4 394.3 667.2 390 668.3 C385.7 669.4 373.4 669.3 368.7 667.9 C364 666.5 365.2 663.6 366.5 661.2Z" fill="#7e9c52" opacity="0.85"/>
<path d="M196.1 621.4 C199.2 617 208.3 613.5 211.6 617 C214.9 620.5 215.8 634.7 212.7 639.1 C209.6 643.5 199.4 642.6 196.1 639.1 C192.8 635.6 193 625.8 196.1 621.4Z" fill="#b9cfc9" opacity="0.6"/>
</g>
<path d="M 263.6 604.8 L 269.1 604.8 Q 271.8 604.8 271.8 608.1 L 271.8 613.7 L 276.9 613.7 L 276.9 625.4 L 263.6 625.4 Z" fill="#2e3840" />
<rect x="263.6" y="640.2" width="14.4" height="11.5" rx="0" fill="#2e3840" />
<path d="M 318.9 615.9 L 342.2 615.9 Q 355.4 615.9 355.4 632.9 Q 355.4 650.6 342.2 650.6 L 318.9 650.6 L 318.9 640.9 L 337.7 640.9 Q 344.8 640.9 344.8 632.9 Q 344.8 625.4 337.7 625.4 L 318.9 625.4 Z" fill="#2e3840" />
<rect x="318.3" y="595.9" width="14.6" height="8.2" rx="0" fill="#4d9a38" />
<path d="M332.2 600.4 L341.7 589.7 L342.2 610.8Z" fill="#22303c" />
<path d="M341.7 595.5 L369.8 595.5" fill="none" stroke="#22303c" stroke-width="1.3" />
<path d="M341.7 603.7 L359.9 603.7" fill="none" stroke="#22303c" stroke-width="1.3" />
<path d="M 187.7 568.7 C 196.1 581.6 206.7 595.9 206.7 607.7 C 206.7 619.2 197.9 626.3 187.7 626.3 C 177.5 626.3 168.6 619.2 168.6 607.7 C 168.6 595.9 179.3 581.6 187.7 568.7 Z" fill="#1f5f95" />
<rect x="180.6" y="622.5" width="13.7" height="37.9" rx="0" fill="#1f5f95" />
<rect x="192.8" y="640.2" width="21" height="14.8" rx="0" fill="#1f5f95" />
<path d="M 187.7 595.3 C 190.1 599.3 193 604.1 193 608.1 C 193 612.1 190.8 614.8 187.7 614.8 C 184.6 614.8 182.4 612.1 182.4 608.1 C 182.4 604.1 185.2 599.3 187.7 595.3 Z" fill="#f5eee6" />
<path d="M187.7 624.7 L187.7 642.4 L191.7 646.2 L212.7 646.2" fill="none" stroke="#e6edf2" stroke-width="0.9" stroke-linejoin="round"/>
<path d="M 212 599.3 L 212 595.9 Q 212 587.3 224.9 587.3 L 251 587.3 Q 264 587.3 264 595.9 L 264 599.3 Z" fill="#3d4349" />
<rect x="212.5" y="599.3" width="51.4" height="62" rx="0" fill="#ece7e2" />
<rect x="212.5" y="599.3" width="10.6" height="62" rx="0" fill="#c6c3c0" />
<rect x="257.6" y="599.3" width="6.2" height="62" rx="0" fill="#b9b7b4" />
<path d="M246.3 608.1 L227.1 634.9 L236.4 635.3 L232.4 654.6 L251.4 627.2 L242.3 625.8Z" fill="#e2471e" />
<rect x="290.8" y="580.2" width="15.5" height="6.2" rx="1.3" fill="#d9dcd8" stroke="#9aa09a" stroke-width="0.5"/>
<path d="M 276.2 662.8 L 276.9 588.2 Q 276.9 582.7 282.4 582.7 L 313.4 582.7 Q 318.9 582.7 319.1 588.2 L 320.3 662.8 Z" fill="#5aa53c" />
<path d="M 311.2 582.7 L 313.4 582.7 Q 318.9 582.7 319.1 588.2 L 320.3 662.8 L 311.2 662.8 Z" fill="#4d9835" opacity="0.6"/>
<rect x="288.6" y="590.9" width="21" height="16.4" rx="0.9" fill="#a5d57c" />
<circle cx="299" cy="629.1" r="10.2" fill="#fbfaf4" />
<rect x="297.7" y="625.4" width="2.7" height="9.7" rx="0.7" fill="#2f7a3a" />
<circle cx="299" cy="622.5" r="1.6" fill="#2f7a3a" />
<rect x="272.4" y="662.8" width="52.2" height="11.9" rx="1.3" fill="#272d33" />
<rect x="204.3" y="661.5" width="69.7" height="13.3" rx="1.8" fill="#343a40" />
<!-- sec_env -->
<rect x="784.2" y="665.8" width="337.5" height="10" rx="0" fill="#d9dccb" mask="url(#mfb)" opacity="0.85" filter="url(#b1)"/>
<rect x="1067.5" y="663" width="372.5" height="1.6" fill="#b3bfcf" opacity="0.8" mask="url(#mfb)"/>
<rect x="790" y="674.5" width="650" height="1.4" fill="#c3ccd8" opacity="0.7" mask="url(#mfb)"/>
<clipPath id="cl_env"><rect x="788.3" y="580.8" width="287.5" height="85"/></clipPath><g clip-path="url(#cl_env)"><g filter="url(#b1)"><g fill="#9ec4c8" opacity="0.92"><circle cx="799.8" cy="661.7" r="5"/><circle cx="809.2" cy="658.8" r="5.8"/><circle cx="821.7" cy="645.8" r="9.2"/><circle cx="827.9" cy="635.4" r="8.3"/><circle cx="836.2" cy="620.8" r="10"/><circle cx="845" cy="616.7" r="8.3"/><circle cx="853.3" cy="622.9" r="10.4"/><circle cx="863.8" cy="620.8" r="9.4"/><circle cx="842.5" cy="643.3" r="16.7"/><circle cx="863.3" cy="643.3" r="12.5"/><circle cx="813.3" cy="651.7" r="6.2"/><circle cx="818.5" cy="660" r="6.7"/><circle cx="805" cy="662.5" r="4.2"/></g><g fill="#79aaad" opacity="0.88"><circle cx="848.8" cy="631.2" r="7.9"/><circle cx="859.2" cy="629.2" r="9.2"/><circle cx="867.5" cy="635.4" r="10.4"/><circle cx="842.5" cy="647.9" r="10.4"/><circle cx="832.5" cy="652.1" r="8.3"/><circle cx="855" cy="649.6" r="12.5"/></g><g fill="#b6d2e3" opacity="0.9"><circle cx="1025.8" cy="601.7" r="6.2"/><circle cx="1032.1" cy="612.1" r="8.3"/><circle cx="1038.3" cy="622.5" r="8.3"/><circle cx="1046.7" cy="632.9" r="8.3"/><circle cx="1049.2" cy="643.3" r="7.1"/><circle cx="1030" cy="632.9" r="10.4"/><circle cx="1030" cy="647.5" r="8.3"/></g><g fill="#5e9a52" opacity="0.95"><circle cx="1042.5" cy="654.2" r="6.2"/><circle cx="1048.8" cy="658.3" r="6.2"/><circle cx="1057.1" cy="662.5" r="5"/><circle cx="1064.4" cy="665" r="2.9"/><circle cx="1040.4" cy="662.5" r="5.2"/></g><path d="M811.2 665.2 C812.6 664.2 816.8 660.5 819.6 660 C822.4 659.5 824.4 663.3 827.9 662.1 C831.4 660.9 836.9 653.4 840.4 652.7 C843.9 652 845.5 658.9 848.8 657.9 C852.1 656.9 856.4 647.5 860.2 646.5 C864 645.5 869.8 648.5 871.7 651.7 C873.6 654.9 881.8 663.4 871.7 665.8 C861.6 668.1 821.3 665.9 811.2 665.8 C801.1 665.7 809.8 666.2 811.2 665.2Z" fill="#3f7b64" /></g></g>
<rect x="867.1" y="663.8" width="114.6" height="5.2" rx="0" fill="#4f7d6e" filter="url(#b1)"/>
<rect x="871.2" y="579.2" width="151.7" height="85.4" rx="3.3" fill="#f4f0e9" stroke="#7c8088" stroke-width="1.3"/>
<path d="M873.1 582.1 L920.6 630.8" fill="none" stroke="#6e727a" stroke-width="1.2" />
<path d="M1021 582.1 L970.6 626.2" fill="none" stroke="#6e727a" stroke-width="1.2" />
<path d="M873.3 662.5 L920.6 631.9" fill="none" stroke="#8b8f96" stroke-width="1" />
<path d="M937.3 634 L947.7 643.3 L959.2 634" fill="none" stroke="#8b8f96" stroke-width="1.1" />
<path d="M 872.1 659.6 Q 880 659.6 886.7 655.8 Q 887.9 660 888.3 664.6 L 873.8 665.2 Q 872.1 664.2 872.1 659.6 Z" fill="#e3dacb" stroke="#a9a49a" stroke-width="0.5"/>
<rect x="921.7" y="631.9" width="49.2" height="6" rx="0" fill="#cbc4bc" />
<path d="M915 612.1 L945.2 588.5 L976.2 612.1Z" fill="#1d5a8e" stroke="#1d5a8e" stroke-width="1" stroke-linejoin="round"/>
<rect x="921.7" y="611" width="49.2" height="22.1" rx="0" fill="#1d5a8e" />
<rect x="939.2" y="604.6" width="12.9" height="17.7" rx="1" fill="#f6f0e7" />
<rect x="980.4" y="631.5" width="55.6" height="42.3" rx="3.3" fill="#dc4420" />
<rect x="980.4" y="631.5" width="55.6" height="42.3" rx="3.3" fill="none" stroke="#c73a19" stroke-width="0.8"/>
<path d="M994.6 647.9 L1006.2 658.3 L1020.8 643.8" fill="none" stroke="#fbf6ee" stroke-width="4.4" stroke-linejoin="miter"/>
<!-- sec_chart -->
<defs><linearGradient id="gb0" x1="0" y1="0" x2="0" y2="1"><stop offset="0" stop-color="#92b0c6"/><stop offset="1" stop-color="#5783a5"/></linearGradient></defs>
<rect x="305.5" y="777.5" width="22" height="143.5" fill="url(#gb0)"/>
<rect x="444" y="852" width="38.5" height="69" fill="#c9dbe7"/>
<rect x="359" y="806.5" width="85" height="114.5" fill="#1e5384"/>
<rect x="605" y="871.5" width="31.5" height="49.5" fill="#f5b57f"/>
<rect x="509" y="828.5" width="96" height="92.5" fill="#ea7a25"/>
<rect x="761" y="891.5" width="28" height="29.5" fill="#c5dea0"/>
<rect x="664" y="863.5" width="97" height="57.5" fill="#6cb83b"/>
<rect x="910.5" y="907.5" width="21.5" height="13.5" fill="#f4b987"/>
<rect x="816.5" y="893.5" width="94" height="27.5" fill="#cf4b23"/>
<rect x="948" y="902" width="92" height="19" fill="#2e6c9e"/>
<rect x="297" y="920.3" width="1190" height="2" fill="#7f9bb4" opacity="1" mask="url(#mfs)"/>
<rect x="297" y="920.2" width="953" height="2.2" fill="#1f4a72" opacity="1" mask="url(#mfr)"/>
<text x="379" y="797.5" font-size="25.5" font-weight="700" font-style="normal" fill="#14365a" textLength="26.3" lengthAdjust="spacingAndGlyphs" stroke="#14365a" stroke-width="0.4">35</text><text x="406.3" y="797.5" font-size="23.5" font-weight="400" font-style="normal" fill="#14365a" textLength="17.7" lengthAdjust="spacingAndGlyphs" stroke="#14365a" stroke-width="0.6">%</text>
<text x="532" y="821.2" font-size="25.5" font-weight="700" font-style="normal" fill="#14365a" textLength="28.1" lengthAdjust="spacingAndGlyphs" stroke="#14365a" stroke-width="0.4">40</text><text x="561.1" y="821.2" font-size="23.5" font-weight="400" font-style="normal" fill="#14365a" textLength="18.9" lengthAdjust="spacingAndGlyphs" stroke="#14365a" stroke-width="0.6">%</text>
<text x="692.5" y="857.5" font-size="25.5" font-weight="700" font-style="normal" fill="#14365a" textLength="26.3" lengthAdjust="spacingAndGlyphs" stroke="#14365a" stroke-width="0.4">15</text><text x="719.8" y="857.5" font-size="23.5" font-weight="400" font-style="normal" fill="#14365a" textLength="17.7" lengthAdjust="spacingAndGlyphs" stroke="#14365a" stroke-width="0.6">%</text>
<text x="840.5" y="886.5" font-size="25.5" font-weight="700" font-style="normal" fill="#14365a" textLength="26.9" lengthAdjust="spacingAndGlyphs" stroke="#14365a" stroke-width="0.4">10</text><text x="868.4" y="886.5" font-size="23.5" font-weight="400" font-style="normal" fill="#14365a" textLength="18.1" lengthAdjust="spacingAndGlyphs" stroke="#14365a" stroke-width="0.6">%</text>
<text x="968" y="896.5" font-size="25.5" font-weight="700" font-style="normal" fill="#14365a" textLength="26.9" lengthAdjust="spacingAndGlyphs" stroke="#14365a" stroke-width="0.4">10</text><text x="995.9" y="896.5" font-size="23.5" font-weight="400" font-style="normal" fill="#14365a" textLength="18.1" lengthAdjust="spacingAndGlyphs" stroke="#14365a" stroke-width="0.6">%</text>
<text x="352.9" y="949.5" font-size="22.5" font-weight="700" font-style="normal" fill="#14365a" textLength="81.1" lengthAdjust="spacingAndGlyphs" >Full-Time</text>
<text x="354.4" y="973" font-size="21" font-weight="400" font-style="normal" fill="#14365a" textLength="103.6" lengthAdjust="spacingAndGlyphs" >RV Residents</text>
<text x="511.4" y="949.5" font-size="22.5" font-weight="700" font-style="normal" fill="#14365a" textLength="87.1" lengthAdjust="spacingAndGlyphs" >Part-Time</text>
<text x="511.9" y="973" font-size="21" font-weight="400" font-style="normal" fill="#14365a" textLength="101.1" lengthAdjust="spacingAndGlyphs" >RV Residents</text>
<text x="673.9" y="949.5" font-size="22.5" font-weight="700" font-style="normal" fill="#14365a" textLength="74.6" lengthAdjust="spacingAndGlyphs" >Seasonal</text>
<text x="672.9" y="973" font-size="21" font-weight="400" font-style="normal" fill="#14365a" textLength="71.1" lengthAdjust="spacingAndGlyphs" >Campers</text>
<text x="824.9" y="949.5" font-size="22.5" font-weight="700" font-style="normal" fill="#14365a" textLength="76.1" lengthAdjust="spacingAndGlyphs" >Vacation</text>
<text x="830.4" y="973" font-size="22" font-weight="700" font-style="normal" fill="#14365a" textLength="59.6" lengthAdjust="spacingAndGlyphs" >RVers</text>
<rect x="482.9" y="933" width="1.2" height="45" fill="#c3ccd6"/>
<rect x="642.9" y="933" width="1.2" height="45" fill="#c3ccd6"/>
<rect x="789.9" y="933" width="1.2" height="45" fill="#c3ccd6"/>
<!-- sec_gavel -->
<defs>
<linearGradient id="gold1" x1="0" y1="0" x2="0" y2="1"><stop offset="0" stop-color="#e0b040"/><stop offset="1" stop-color="#a9791f"/></linearGradient>
<linearGradient id="gold2" x1="0" y1="0" x2="1" y2="0"><stop offset="0" stop-color="#b97f22"/><stop offset="0.35" stop-color="#e7a93a"/><stop offset="0.7" stop-color="#d8952c"/><stop offset="1" stop-color="#b97a20"/></linearGradient>
<linearGradient id="wood1" x1="0" y1="0" x2="0" y2="1"><stop offset="0" stop-color="#8a5528"/><stop offset="0.4" stop-color="#6b3f1e"/><stop offset="1" stop-color="#58331a"/></linearGradient>
</defs>
<ellipse cx="1259.2" cy="909.4" rx="124" ry="4.9" fill="#bdb7ad" opacity="0.45" filter="url(#b3)"/>
<rect x="1272" y="886.8" width="42.9" height="16.4" rx="0.9" fill="#3f4852" />
<rect x="1257.7" y="880.1" width="45.1" height="7.5" rx="0.9" fill="#343c45" />
<path d="M 1270.3 858.5 L 1289.3 858.5 Q 1290.2 873.9 1294.2 880.1 L 1265.4 880.1 Q 1269.8 873.9 1270.3 858.5 Z" fill="#39424c" />
<rect x="1268.9" y="856.7" width="21.7" height="4.4" rx="1.8" fill="#2e363f" />
<rect x="1274.7" y="794.3" width="10.2" height="64.6" rx="0" fill="#39424c" />
<rect x="1272.5" y="800" width="14.6" height="5.3" rx="1.8" fill="#2e363f" />
<path d="M 1221.6 792.1 C 1237.1 789.8 1254.8 785.4 1268.1 780.5 L 1272.9 782.3 L 1272.9 790.3 C 1259.2 791.6 1241.5 794.3 1224.2 796.5 Z" fill="#c8922a" />
<path d="M 1336.7 792.1 C 1321.2 789.8 1303.5 785.4 1290.2 780.5 L 1287.5 782.3 L 1287.5 790.3 C 1301.3 791.6 1319 794.3 1334 796.5 Z" fill="#c8922a" />
<path d="M 1221.6 792.1 C 1237.1 789.8 1254.8 785.4 1268.1 780.5 L 1269.2 782.3 C 1254.8 787.6 1237.1 791.2 1222.7 793.4 Z" fill="#e3b247" />
<path d="M 1336.7 792.1 C 1321.2 789.8 1303.5 785.4 1290.2 780.5 L 1289.1 782.3 C 1303.5 787.6 1321.2 791.2 1335.6 793.4 Z" fill="#e3b247" />
<rect x="1272" y="774.8" width="16.4" height="21.2" rx="6.6" fill="#c48a26" stroke="#5a4a2a" stroke-width="0.7"/>
<rect x="1275.1" y="777" width="6.2" height="16.8" rx="3.1" fill="#e2ad42" />
<circle cx="1279.8" cy="767.3" r="6" fill="#2f3740" />
<rect x="1276.5" y="771.7" width="6.6" height="4.4" rx="0" fill="#2f3740" />
<circle cx="1219.8" cy="786.7" r="6" fill="#c48a26" />
<circle cx="1218.5" cy="785" r="2.7" fill="#e6b64c" />
<circle cx="1338.2" cy="786.7" r="6" fill="#c48a26" />
<circle cx="1336.9" cy="785" r="2.7" fill="#e6b64c" />
<path d="M1224.2 795.4 L1202.8 839" fill="none" stroke="#2c3a48" stroke-width="1.6" />
<path d="M1224.2 795.4 L1224.9 839" fill="none" stroke="#2c3a48" stroke-width="1.6" />
<path d="M1224.2 795.4 L1247 839" fill="none" stroke="#2c3a48" stroke-width="1.6" />
<path d="M1335.1 795.4 L1312.8 839" fill="none" stroke="#2c3a48" stroke-width="1.6" />
<path d="M1335.1 795.4 L1335.1 839" fill="none" stroke="#2c3a48" stroke-width="1.6" />
<path d="M1335.1 795.4 L1357 839" fill="none" stroke="#2c3a48" stroke-width="1.6" />
<path d="M 1195.7 839.4 Q 1202.3 855.8 1224.2 855.8 Q 1246.1 855.8 1252.8 839.4 Z" fill="url(#gold1)" />
<ellipse cx="1224.2" cy="839.6" rx="28.6" ry="2" fill="#dcae3e" stroke="#8f6a1c" stroke-width="0.5"/>
<path d="M 1306.1 839.4 Q 1312.8 855.8 1334.7 855.8 Q 1356.6 855.8 1363.2 839.4 Z" fill="url(#gold1)" />
<ellipse cx="1334.7" cy="839.6" rx="28.6" ry="2" fill="#dcae3e" stroke="#8f6a1c" stroke-width="0.5"/>
<rect x="1077.7" y="895" width="110.2" height="20.6" rx="2.2" fill="url(#wood1)" />
<path d="M 1082.1 896.5 L 1084.8 888.3 Q 1085.7 885.9 1088.8 885.9 L 1176.2 885.9 Q 1179.5 885.9 1180.8 888.3 L 1184.4 896.5 Z" fill="#7a4a22" />
<rect x="1086.1" y="886.3" width="93.4" height="3.1" rx="1.3" fill="#9a6330" opacity="0.8"/>
<rect x="1078.6" y="897" width="108.5" height="2.7" rx="0.9" fill="#8d5a2b" opacity="0.7"/>
<path d="M1187.9 904.3 L1281.3 904.3 L1294.6 914.2 L1187.9 914.2Z" fill="#a98558" opacity="0.85" filter="url(#b1)"/>
<path d="M 1170.2 846.9 L 1181.3 850 L 1201.7 861.8 L 1295.1 897.9 Q 1302.6 904.9 1303.9 909.8 L 1301.7 913.3 L 1278 913.3 L 1165.8 863.3 Z" fill="#6e3c1c" />
<path d="M 1181.3 850 L 1201.7 861.8 L 1295.1 897.9 Q 1302.6 904.9 1303.9 909.8 L 1290.2 902.7 L 1197.2 865.1 L 1175.1 854 Z" fill="#83491f" opacity="0.75"/>
<path d="M 1198.3 865.1 Q 1199.4 860.7 1205 861.8 Q 1210.5 863.3 1209.4 870.6 Q 1207.9 878.4 1201.7 877.3 Q 1196.8 875.7 1198.3 865.1 Z" fill="#5e3217" />
<path d="M 1165.8 854 Q 1168.5 846.3 1175.1 847.4 Q 1182.8 849.6 1180.6 859.6 Q 1178.4 867.3 1171.8 866.2 Q 1164 864 1165.8 854 Z" fill="#6a391b" />
<path d="M 1136.4 814.2 L 1179.5 826.4 L 1157.4 880.6 L 1116.4 870.6 Z" fill="#55301a" />
<path d="M 1134.8 812 Q 1135.3 806.4 1143 804.2 L 1177.3 816.4 Q 1181.7 819.1 1180.6 825.3 L 1178.4 832.3 L 1135.7 820.4 Z" fill="#6b3b1c" />
<path d="M 1142.3 808 Q 1145.2 806.2 1148.5 807.5 L 1175.1 817.3 Q 1177.3 818.6 1176.4 820.4 L 1141.9 809.8 Z" fill="#a86a38" opacity="0.85"/>
<path d="M 1132.6 821.3 L 1175.1 833.2 Q 1175.5 837.4 1172.9 840.3 L 1131.3 827.9 Q 1130.4 824.1 1132.6 821.3 Z" fill="#552c15" />
<path d="M 1131.9 827.5 L 1171.8 839.4 L 1163.6 861.8 L 1123.1 850.9 Z" fill="url(#gold2)" />
<path d="M 1119.8 850.7 L 1165.1 862.4 Q 1165.8 866.2 1163.6 869.5 L 1118 858 Q 1117.5 854 1119.8 850.7 Z" fill="#552c15" />
<path d="M 1115.3 861.8 L 1158.5 871.7 L 1156.9 882.8 Q 1153 886.1 1146.3 885.5 L 1118 877.3 Q 1113.1 871.7 1115.3 861.8 Z" fill="#6b3b1c" />
<path d="M 1118 865.1 L 1157.4 874.4 L 1156.9 878.4 L 1117.1 869.1 Z" fill="#8b5527" opacity="0.6"/>
<!-- sec_text -->
<text x="555.2" y="90.3" font-size="56.8" font-weight="400" font-style="normal" fill="#14365a" textLength="452.1" lengthAdjust="spacingAndGlyphs" stroke="#14365a" stroke-width="1.5" stroke-linejoin="round">Understanding Kentucky’s</text>
<text x="446.2" y="153.5" font-size="59.5" font-weight="700" font-style="normal" fill="#14365a" textLength="607.1" lengthAdjust="spacingAndGlyphs" stroke="#14365a" stroke-width="1" stroke-linejoin="round">Legal Framework for RV Living</text>
<rect x="390" y="74.4" width="158" height="3.2" fill="#1d4268" opacity="1" mask="url(#mfb)"/>
<rect x="1016" y="75" width="468" height="2" fill="#a9b8cc" opacity="1" mask="url(#mfr)"/>
<rect x="1014" y="74.5" width="316" height="3" fill="#1d4268" opacity="1" mask="url(#mf2)"/>
<rect x="447" y="169.6" width="609" height="2.4" fill="#1d4268" opacity="1" mask="url(#mfs)"/>
<text x="457.9" y="238.8" font-size="28.5" font-weight="700" font-style="normal" fill="#14365a" textLength="575.6" lengthAdjust="spacingAndGlyphs" >Key Legal Factors for RV Residents in Kentucky</text>
<rect x="150" y="230" width="296" height="2" fill="#7d9bb5" opacity="1" mask="url(#mfl)"/>
<rect x="1046" y="230" width="20" height="2" fill="#5f86a6" opacity="0.8" mask="url(#mfb)"/>
<text x="233.2" y="329.3" font-size="30" font-weight="700" font-style="normal" fill="#14365a" textLength="235.1" lengthAdjust="spacingAndGlyphs" >Zoning Regulations</text>
<rect x="52" y="315" width="169" height="2" fill="#336790" opacity="1" mask="url(#mfs)"/>
<rect x="478" y="315" width="262" height="2" fill="#336790" opacity="1" mask="url(#mfs)"/>
<text x="998.9" y="329" font-size="30" font-weight="700" font-style="normal" fill="#14365a" textLength="262.6" lengthAdjust="spacingAndGlyphs" >Length of Stay Limits</text>
<rect x="797" y="315" width="189" height="2" fill="#336790" opacity="1" mask="url(#mfs)"/>
<rect x="1275" y="315" width="211" height="2" fill="#336790" opacity="1" mask="url(#mfs)"/>
<text x="183.2" y="550.7" font-size="30" font-weight="700" font-style="normal" fill="#14365a" textLength="308.1" lengthAdjust="spacingAndGlyphs" >Utility &amp; Safety Standards</text>
<rect x="52" y="538" width="119" height="2" fill="#336790" opacity="1" mask="url(#mfs)"/>
<rect x="505" y="538" width="235" height="2" fill="#336790" opacity="1" mask="url(#mfs)"/>
<text x="938.9" y="551" font-size="30" font-weight="700" font-style="normal" fill="#14365a" textLength="318.6" lengthAdjust="spacingAndGlyphs" >Address &amp; Residency Rules</text>
<rect x="797" y="538" width="131" height="2" fill="#336790" opacity="1" mask="url(#mfs)"/>
<rect x="1270" y="538" width="216" height="2" fill="#336790" opacity="1" mask="url(#mfs)"/>
<text x="433.4" y="399" font-size="24.6" font-weight="400" font-style="normal" fill="#14365a" textLength="156.1" lengthAdjust="spacingAndGlyphs" >RV living allowed</text>
<text x="433.4" y="435" font-size="24.6" font-weight="400" font-style="normal" fill="#14365a" textLength="238.6" lengthAdjust="spacingAndGlyphs" >in specific areas and parks.</text>
<text x="1035.4" y="399" font-size="24.6" font-weight="400" font-style="normal" fill="#14365a" textLength="229.6" lengthAdjust="spacingAndGlyphs" >Restrictions on how long</text>
<text x="1035.4" y="434.8" font-size="24.6" font-weight="400" font-style="normal" fill="#14365a" textLength="225.6" lengthAdjust="spacingAndGlyphs" >you can stay in one place.</text>
<text x="380.9" y="616" font-size="24.6" font-weight="400" font-style="normal" fill="#14365a" textLength="219.6" lengthAdjust="spacingAndGlyphs" >Requirements for water,</text>
<text x="380.9" y="651.5" font-size="24.6" font-weight="400" font-style="normal" fill="#14365a" textLength="302.1" lengthAdjust="spacingAndGlyphs" >sewage, and electrical hookups.</text>
<text x="1062.4" y="619" font-size="24.6" font-weight="400" font-style="normal" fill="#14365a" textLength="236.6" lengthAdjust="spacingAndGlyphs" >Guidelines for establishing</text>
<text x="1062.4" y="652.5" font-size="24.6" font-weight="400" font-style="normal" fill="#14365a" textLength="138.6" lengthAdjust="spacingAndGlyphs" >legal residency.</text>
<rect x="765.5" y="297" width="1.6" height="197" fill="#b5c1cd"/>
<rect x="765.5" y="523" width="1.6" height="170" fill="#b5c1cd"/>
<text x="610.9" y="747.5" font-size="26.5" font-weight="700" font-style="normal" fill="#14365a" textLength="263.1" lengthAdjust="spacingAndGlyphs" >RV Living in Kentucky</text>
<rect x="297" y="737.5" width="303" height="2" fill="#7d95ab" opacity="1" mask="url(#mfl)"/>
<rect x="885" y="737" width="395" height="2" fill="#7d95ab" opacity="1" mask="url(#mfr)"/>
<text x="1073.4" y="952" font-size="23" font-weight="400" font-style="italic" fill="#14365a" textLength="338.1" lengthAdjust="spacingAndGlyphs" >Compliance with Local Laws &amp; Regulations</text>
<rect x="950" y="944.1" width="113" height="1.8" fill="#3c6288" opacity="1" mask="url(#mfl)"/>
<rect x="1419" y="944.2" width="22" height="1.6" fill="#3c6288" opacity="0.7" mask="url(#mfr)"/>
</svg>
</body></html>
